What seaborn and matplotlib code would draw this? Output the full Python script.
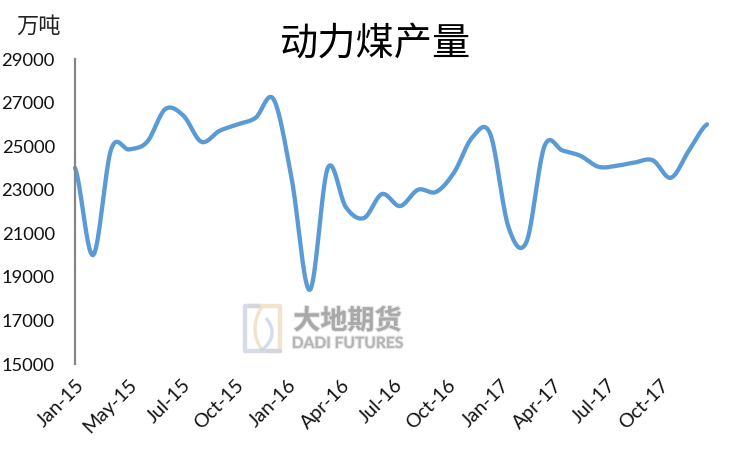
import matplotlib
matplotlib.use('Agg')
import matplotlib.pyplot as plt
import matplotlib.patheffects as pe
from matplotlib.lines import Line2D
from matplotlib.patches import PathPatch
from matplotlib.path import Path
import numpy as np
import pandas as pd
import seaborn as sns

# monthly output
values = [24000, 20000, 24850, 24850, 25200, 26700, 26400, 25200, 25700, 26000,
          26300, 27150, 23500, 18400, 24000, 22200, 21700, 22800, 22250, 23000,
          22900, 23800, 25400, 25550, 21300, 20600, 25000, 24800, 24550, 24050,
          24100, 24250, 24350, 23550, 24800, 26000]
tick_labels = ['Jan-15', 'May-15', 'Jul-15', 'Oct-15', 'Jan-16', 'Apr-16',
               'Jul-16', 'Oct-16', 'Jan-17', 'Apr-17', 'Jul-17', 'Oct-17']
y_ticks = [15000, 17000, 19000, 21000, 23000, 25000, 27000, 29000]


def smooth(y, per_seg=20):
    # spreadsheet style smoothed line (Catmull-Rom through the points)
    y = np.asarray(y, dtype=float)
    p = np.concatenate([[y[0]], y, [y[-1]]])
    xs, ys = [], []
    for i in range(len(y) - 1):
        t = np.linspace(0, 1, per_seg, endpoint=False)
        a, b, c, d = p[i], p[i + 1], p[i + 2], p[i + 3]
        ys.append(0.5 * (2 * b + (c - a) * t + (2 * a - 5 * b + 4 * c - d) * t**2
                         + (3 * b - a - 3 * c + d) * t**3))
        xs.append(i + t)
    xs.append([len(y) - 1])
    ys.append([y[-1]])
    return np.concatenate(xs), np.concatenate(ys)


sns.set_theme(style='white')
plt.rcParams['font.family'] = ['Lato', 'Noto Sans CJK SC', 'DejaVu Sans']

W, H = 750, 450
fig = plt.figure(figsize=(7.5, 4.5), dpi=100, facecolor='white')
ax = fig.add_axes([75 / W, 1 - 364 / H, (707 - 75) / W, (364 - 59) / H])

sx, sy = smooth(values)
df = pd.DataFrame({'x': sx, 'y': sy})
sns.lineplot(data=df, x='x', y='y', ax=ax, color='#5b9bd5', linewidth=3.1,
             errorbar=None, estimator=None, sort=False, clip_on=False)

ax.set_xlim(0, len(values) - 1)
ax.set_ylim(15000, 29000)
ax.set_xlabel('')
ax.set_ylabel('')
ax.set_yticks(y_ticks)
# the labels sit a little closer together than every third point
ax.set_xticks(np.arange(len(tick_labels)) * 2.945)
ax.set_xticklabels(tick_labels)
ax.tick_params(axis='y', length=0, pad=14.5, labelsize=13.2, labelcolor='#111111')
ax.tick_params(axis='x', length=0, pad=9, labelsize=14, labelcolor='#111111')
for lab in ax.get_xticklabels():
    lab.set_rotation(45)
    lab.set_ha('right')
    lab.set_rotation_mode('anchor')
for side in ['top', 'right', 'bottom']:
    ax.spines[side].set_visible(False)
ax.spines['left'].set_color('#868686')
ax.spines['left'].set_linewidth(1.6)

fig.text(376 / W, 1 - 44 / H, '动力煤产量', fontsize=27.5, ha='center', va='center',
         color='black', family=['Noto Sans CJK SC', 'DejaVu Sans'], weight='light')
fig.text(38.5 / W, 1 - 26 / H, '万吨', fontsize=16, ha='center', va='center',
         color='#222222', family=['Noto Sans CJK SC', 'DejaVu Sans'], weight='light')


# watermark: logo frame plus company name
def px_line(xs, ys, color, lw=3.2):
    fig.add_artist(Line2D([v / W for v in xs], [1 - v / H for v in ys], color=color,
                          lw=lw, alpha=0.75, solid_joinstyle='round'))


def px_curve(pts, color, lw=2.4):
    verts = [(v[0] / W, 1 - v[1] / H) for v in pts]
    path = Path(verts, [Path.MOVETO, Path.CURVE3, Path.CURVE3])
    fig.add_artist(PathPatch(path, fc='none', ec=color, lw=lw, alpha=0.8,
                             transform=fig.transFigure))


px_line([250, 280, 280, 268], [306, 306, 351, 351], '#ecdcc0')
px_line([258, 245, 245, 280], [306, 306, 351, 351], '#c8d1de')
px_curve([(262, 306), (248, 330), (262, 350)], '#ecdcc0')
px_curve([(266, 318), (280, 335), (262, 350)], '#c3d5e8')

soft = [pe.withStroke(linewidth=1.6, foreground='#d8d8d8', alpha=0.6)]
fig.text(347.5 / W, 1 - 321 / H, '大地期货', fontsize=19.5, ha='center', va='center',
         color='#a9a9a9', weight='bold', family=['Noto Sans CJK SC', 'DejaVu Sans'],
         path_effects=soft)
fig.text(347.5 / W, 1 - 344 / H, 'DADI FUTURES', fontsize=11.2, ha='center', va='center',
         color='#b5b5b5', weight='bold', family=['Lato', 'DejaVu Sans'], path_effects=soft)

fig.savefig('out.png', dpi=100)
